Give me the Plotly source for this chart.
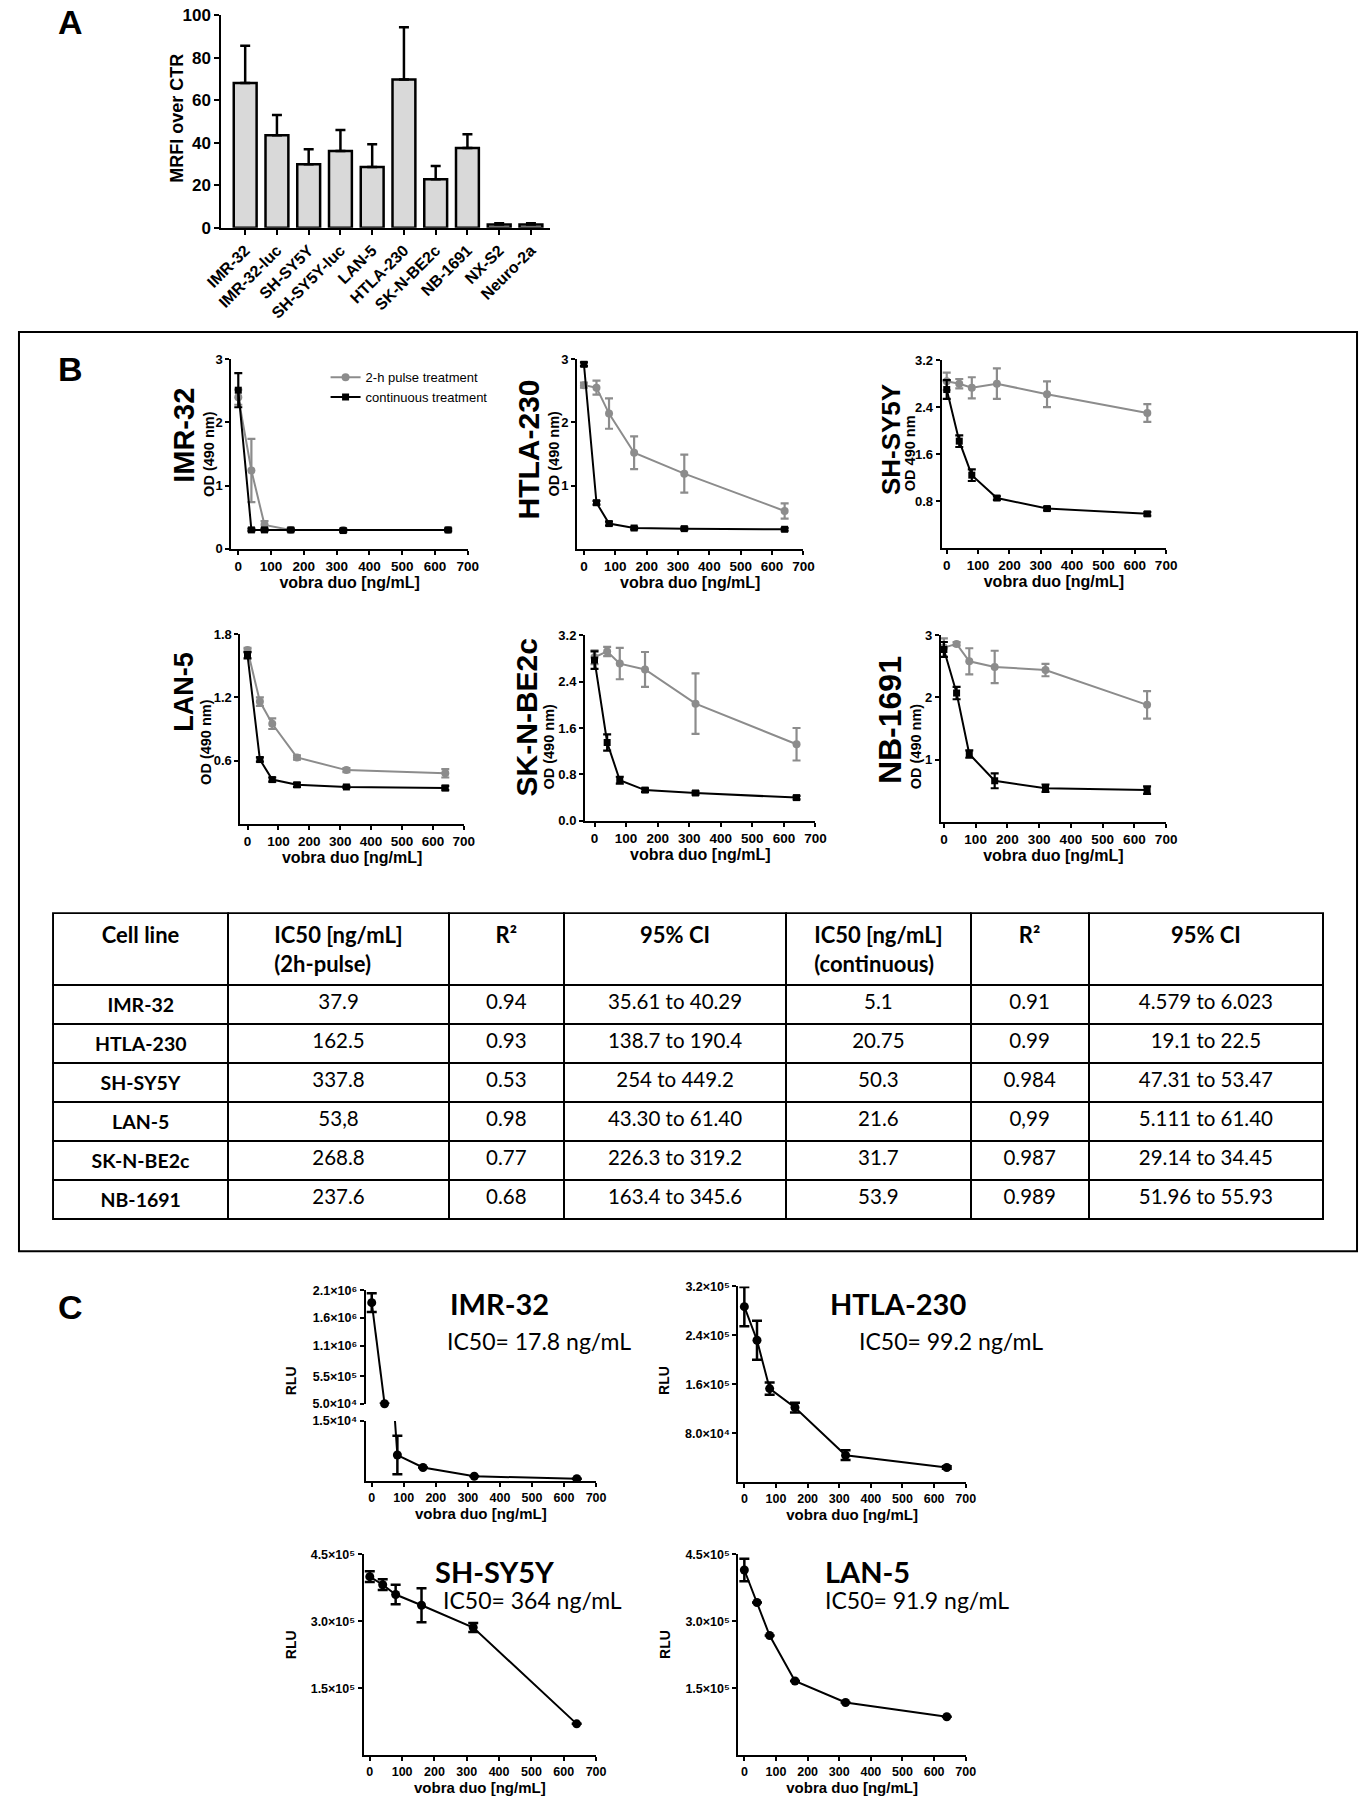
import plotly.graph_objects as go

W, H = 1369, 1800

# ---------------- Panel A data ----------------
cell_lines_A = ["IMR-32", "IMR-32-luc", "SH-SY5Y", "SH-SY5Y-luc", "LAN-5",
                "HTLA-230", "SK-N-BE2c", "NB-1691", "NX-S2", "Neuro-2a"]
mrfi_mean = [68.0, 43.5, 29.8, 36.1, 28.6, 69.7, 22.8, 37.5, 1.5, 1.5]
mrfi_sd = [17.6, 9.5, 7.1, 9.9, 10.6, 24.6, 6.2, 6.5, 0.6, 0.6]

# ---------------- Panel B data ----------------
doses = [0, 40, 80, 160, 320, 640]

pulse_IMR32 = [2.40, 1.24, 0.38, 0.30, 0.30, 0.30]
pulse_IMR32_err = [0.12, 0.50, 0.06, 0.02, 0.02, 0.02]
cont_IMR32 = [2.51, 0.30, 0.30, 0.30, 0.29, 0.30]
cont_IMR32_err = [0.27, 0.02, 0.02, 0.02, 0.02, 0.02]

pulse_HTLA230 = [2.59, 2.55, 2.14, 1.52, 1.19, 0.60]
pulse_HTLA230_err = [0.04, 0.11, 0.24, 0.26, 0.30, 0.12]
cont_HTLA230 = [2.92, 0.73, 0.40, 0.33, 0.32, 0.31]
cont_HTLA230_err = [0.03, 0.03, 0.03, 0.02, 0.02, 0.02]

pulse_SHSY5Y = [2.84, 2.80, 2.73, 2.80, 2.62, 2.30]
pulse_SHSY5Y_err = [0.15, 0.08, 0.18, 0.26, 0.22, 0.15]
cont_SHSY5Y = [2.70, 1.82, 1.24, 0.85, 0.67, 0.58]
cont_SHSY5Y_err = [0.16, 0.10, 0.10, 0.03, 0.03, 0.03]

pulse_LAN5 = [1.65, 1.16, 0.95, 0.63, 0.51, 0.48]
pulse_LAN5_err = [0.02, 0.04, 0.05, 0.02, 0.02, 0.04]
cont_LAN5 = [1.60, 0.61, 0.42, 0.37, 0.35, 0.34]
cont_LAN5_err = [0.03, 0.02, 0.02, 0.02, 0.01, 0.02]

pulse_SKNBE2c = [2.82, 2.92, 2.71, 2.61, 2.02, 1.32]
pulse_SKNBE2c_err = [0.12, 0.08, 0.27, 0.30, 0.52, 0.28]
cont_SKNBE2c = [2.77, 1.35, 0.70, 0.53, 0.48, 0.40]
cont_SKNBE2c_err = [0.15, 0.14, 0.06, 0.03, 0.03, 0.03]

pulse_NB1691 = [2.80, 2.86, 2.58, 2.49, 2.44, 1.88]
pulse_NB1691_err = [0.15, 0.03, 0.21, 0.26, 0.10, 0.22]
cont_NB1691 = [2.77, 2.07, 1.09, 0.66, 0.54, 0.51]
cont_NB1691_err = [0.12, 0.10, 0.06, 0.12, 0.06, 0.06]

# ---------------- Table data ----------------
tbl_header = ["Cell line", "IC50 [ng/mL]<br>(2h-pulse)", "R²", "95% CI",
              "IC50 [ng/mL]<br>(continuous)", "R²", "95% CI"]
tbl_cell_line = ["IMR-32", "HTLA-230", "SH-SY5Y", "LAN-5", "SK-N-BE2c", "NB-1691"]
tbl_ic50_pulse = ["37.9", "162.5", "337.8", "53,8", "268.8", "237.6"]
tbl_r2_pulse = ["0.94", "0.93", "0.53", "0.98", "0.77", "0.68"]
tbl_ci_pulse = ["35.61 to 40.29", "138.7 to 190.4", "254 to 449.2",
                "43.30 to 61.40", "226.3 to 319.2", "163.4 to 345.6"]
tbl_ic50_cont = ["5.1", "20.75", "50.3", "21.6", "31.7", "53.9"]
tbl_r2_cont = ["0.91", "0.99", "0.984", "0,99", "0.987", "0.989"]
tbl_ci_cont = ["4.579 to 6.023", "19.1 to 22.5", "47.31 to 53.47",
               "5.111 to 61.40", "29.14 to 34.45", "51.96 to 55.93"]

# ---------------- Panel C data ----------------
rlu_IMR32 = [1.88e6, 5.2e4, 6.5e3, 3.4e3, 1.2e3, 0.6e3]
rlu_IMR32_err = [1.7e5, 0, 4.8e3, 0, 0, 0]
rlu_HTLA230 = [2.87e5, 2.32e5, 1.53e5, 1.22e5, 4.4e4, 2.4e4]
rlu_HTLA230_err = [3.2e4, 3.2e4, 1.0e4, 8e3, 8e3, 2e3]
rlu_SHSY5Y = [4.0e5, 3.82e5, 3.6e5, 3.36e5, 2.86e5, 0.70e5]
rlu_SHSY5Y_err = [1.2e4, 1.2e4, 2.2e4, 3.8e4, 1.0e4, 0]
rlu_LAN5 = [4.15e5, 3.42e5, 2.68e5, 1.66e5, 1.18e5, 0.86e5]
rlu_LAN5_err = [2.5e4, 0, 0, 0, 0, 0]
ic50_C = {"IMR-32": "17.8", "HTLA-230": "99.2", "SH-SY5Y": "364", "LAN-5": "91.9"}

# ---------------- helpers ----------------
SANS = "Liberation Sans, Arial"
CAL = "Lato, Carlito, Calibri, Open Sans"
GRAY = "#8c8c8c"

# layout positions below are given in picture pixels; convert to figure pixels
AX, BX = 17.0, 0.977
AY, BY = 10.0, 0.986


def px(X):
    return min(max((X - AX) / BX, 1.0), W - 1.0)


def py(Y):
    return min(max((Y - AY) / BY, 1.0), H - 1.0)


def xd(l, r):
    return [px(l) / W, px(r) / W]


def yd(t, b):
    return [1 - py(b) / H, 1 - py(t) / H]


def base_axis(**kw):
    d = dict(showline=True, linecolor="black", linewidth=2, ticks="outside",
             ticklen=4, tickwidth=2, tickcolor="black", showgrid=False,
             zeroline=False,
             tickfont=dict(family=SANS, size=13.5, color="black", weight="bold"))
    d.update(kw)
    return d


def ann(text, x, y, size, family=SANS, bold=True, angle=0):
    return dict(text=text, x=px(x) / W, y=1 - py(y) / H, xref="paper", yref="paper",
                xanchor="center", yanchor="middle", textangle=angle, showarrow=False,
                font=dict(family=family, size=size, color="black",
                          weight="bold" if bold else "normal"))


fig = go.Figure()
layout = {}
annotations = []
shapes = []

# ---------------- Panel A ----------------
fig.add_trace(go.Bar(
    x=cell_lines_A, y=mrfi_mean, xaxis="x", yaxis="y", width=0.72,
    marker=dict(color="#d9d9d9", line=dict(color="black", width=2.5)),
    error_y=dict(type="data", array=mrfi_sd, arrayminus=[0] * len(mrfi_sd),
                 symmetric=False, color="black", thickness=2.5, width=5),
    showlegend=False))
layout["xaxis"] = base_axis(domain=xd(220, 548), anchor="y", range=[-0.75, 9.6],
                            tickangle=-45, ticklen=5,
                            tickfont=dict(family=SANS, size=16, color="black", weight="bold"))
layout["yaxis"] = base_axis(domain=yd(16, 228), anchor="x", range=[0, 100], ticklen=5,
                            tickvals=[0, 20, 40, 60, 80, 100],
                            tickfont=dict(family=SANS, size=17, color="black", weight="bold"))
annotations.append(ann("MRFI over CTR", 176, 119, 18, angle=-90))

# ---------------- Panel B ----------------
# (name, pulse, pulse err, cont, cont err, x px, y px, x range, y range, y ticks, y tick text,
#  name position, name size, OD position, OD text)
b_specs = [
    ("IMR-32", pulse_IMR32, pulse_IMR32_err, cont_IMR32, cont_IMR32_err,
     (230, 466), (359, 548), [-21, 700], [0, 3], [0, 1, 2, 3], None,
     (183, 435), 29, (207, 453), "OD (490 nm)"),
    ("HTLA-230", pulse_HTLA230, pulse_HTLA230_err, cont_HTLA230, cont_HTLA230_err,
     (575, 801), (359, 548), [-22, 700], [0, 3], [1, 2, 3], None,
     (527, 449), 30, (552, 453), "OD (490 nm)"),
    ("SH-SY5Y", pulse_SHSY5Y, pulse_SHSY5Y_err, cont_SHSY5Y, cont_SHSY5Y_err,
     (939, 1163), (360, 547), [-16, 700], [0, 3.2], [0.8, 1.6, 2.4, 3.2], None,
     (889, 439), 26, (907, 453), "OD 490 nm"),
    ("LAN-5", pulse_LAN5, pulse_LAN5_err, cont_LAN5, cont_LAN5_err,
     (239, 462), (633, 822), [-23, 700], [0, 1.8], [0.6, 1.2, 1.8], None,
     (183, 690), 27, (204, 740), "OD (490 nm)"),
    ("SK-N-BE2c", pulse_SKNBE2c, pulse_SKNBE2c_err, cont_SKNBE2c, cont_SKNBE2c_err,
     (583, 813), (634, 819), [-30, 700], [0, 3.2], [0, 0.8, 1.6, 2.4, 3.2],
     ["0.0", "0.8", "1.6", "2.4", "3.2"],
     (525, 716), 30, (547, 745), "OD (490 nm)"),
    ("NB-1691", pulse_NB1691, pulse_NB1691_err, cont_NB1691, cont_NB1691_err,
     (938, 1163), (634, 820), [-10, 700], [0, 3], [1, 2, 3], None,
     (888, 719), 32, (913, 745), "OD (490 nm)"),
]

for i, (name, pv, pe, cv, ce, xdom, ydom, xr, yr, ytv, ytt, namepos, namesize, odpos, odtxt) in enumerate(b_specs):
    n = i + 2
    xa, ya = f"x{n}", f"y{n}"
    first = (i == 0)
    fig.add_trace(go.Scatter(
        x=doses, y=pv, xaxis=xa, yaxis=ya, mode="lines+markers",
        name="2-h pulse treatment", showlegend=first, legendrank=1,
        line=dict(color=GRAY, width=2), marker=dict(symbol="circle", size=8, color=GRAY),
        error_y=dict(type="data", array=pe, color=GRAY, thickness=2.2, width=4),
        cliponaxis=False))
    fig.add_trace(go.Scatter(
        x=doses, y=cv, xaxis=xa, yaxis=ya, mode="lines+markers",
        name="continuous treatment", showlegend=first, legendrank=2,
        line=dict(color="black", width=2), marker=dict(symbol="square", size=7, color="black"),
        error_y=dict(type="data", array=ce, color="black", thickness=2.2, width=4),
        cliponaxis=False))
    layout[f"xaxis{n}"] = base_axis(
        domain=xd(*xdom), anchor=ya, range=xr, tickvals=[0, 100, 200, 300, 400, 500, 600, 700],
        title=dict(text="vobra duo [ng/mL]", standoff=4,
                   font=dict(family=SANS, size=16, color="black", weight="bold")))
    yax = base_axis(domain=yd(*ydom), anchor=xa, range=yr, tickvals=ytv,
                    tickfont=dict(family=SANS, size=13, color="black", weight="bold"))
    if ytt:
        yax["ticktext"] = ytt
    layout[f"yaxis{n}"] = yax
    annotations.append(ann(name, namepos[0], namepos[1], namesize, angle=-90))
    annotations.append(ann(odtxt, odpos[0], odpos[1], 14.5, angle=-90))

# ---------------- Table ----------------
fig.add_trace(go.Table(
    domain=dict(x=xd(52, 1320), y=yd(911, 1232)),
    columnwidth=[175, 220, 115, 222, 184, 118, 234],
    header=dict(values=[f"<b>{h}</b>" for h in tbl_header],
                line=dict(color="black", width=2), fill=dict(color="white"),
                align="center", height=72,
                font=dict(family=CAL, size=22, color="black")),
    cells=dict(values=[[f"<b>{c}</b>" for c in tbl_cell_line], tbl_ic50_pulse, tbl_r2_pulse,
                       tbl_ci_pulse, tbl_ic50_cont, tbl_r2_cont, tbl_ci_cont],
               line=dict(color="black", width=2), fill=dict(color="white"),
               align="center", height=39,
               font=dict(family=CAL, size=[19.5, 20.5, 20.5, 20.5, 20.5, 20.5, 20.5],
                         color="black"))))

# ---------------- Panel C ----------------
xt = [0, 100, 200, 300, 400, 500, 600, 700]
xtitle = dict(text="vobra duo [ng/mL]", standoff=4,
              font=dict(family=SANS, size=15, color="black", weight="bold"))
ctick = dict(family=SANS, size=12.5, color="black", weight="bold")
SUP = {"4": "⁴", "5": "⁵", "6": "⁶"}


def sci(v, e):
    return f"{v}×10{SUP[str(e)]}"


# IMR-32 upper (broken axis)
fig.add_trace(go.Scatter(
    x=doses[:2], y=rlu_IMR32[:2], xaxis="x8", yaxis="y8", mode="lines+markers",
    line=dict(color="black", width=2), marker=dict(size=9, color="black"),
    error_y=dict(type="data", array=rlu_IMR32_err[:2], color="black", thickness=2.5, width=5),
    showlegend=False, cliponaxis=False))
layout["xaxis8"] = dict(domain=xd(364, 594), anchor="y8", range=[-19, 700], visible=False)
layout["yaxis8"] = base_axis(domain=yd(1287, 1400), anchor="x8", range=[5e4, 2.1e6],
                             tickvals=[2.1e6, 1.6e6, 1.1e6, 5.5e5, 5e4],
                             ticktext=[sci("2.1", 6), sci("1.6", 6), sci("1.1", 6),
                                       sci("5.5", 5), sci("5.0", 4)],
                             tickfont=ctick)
# IMR-32 lower
fig.add_trace(go.Scatter(
    x=doses[1:], y=rlu_IMR32[1:], xaxis="x9", yaxis="y9", mode="lines+markers",
    line=dict(color="black", width=2), marker=dict(size=9, color="black"),
    error_y=dict(type="data", array=rlu_IMR32_err[1:], color="black", thickness=2.5, width=5),
    showlegend=False, cliponaxis=True))
layout["xaxis9"] = base_axis(domain=xd(364, 594), anchor="y9", range=[-19, 700], tickvals=xt,
                             title=xtitle, tickfont=ctick)
layout["yaxis9"] = base_axis(domain=yd(1417, 1477), anchor="x9", range=[0, 1.5e4],
                             tickvals=[1.5e4], ticktext=[sci("1.5", 4)], tickfont=ctick)

c_specs = [
    ("HTLA-230", rlu_HTLA230, rlu_HTLA230_err, (736, 963), (1283, 1478), [0, 3.2e5],
     [8e4, 1.6e5, 2.4e5, 3.2e5], [sci("8.0", 4), sci("1.6", 5), sci("2.4", 5), sci("3.2", 5)],
     (895, 1300), (948, 1337), 662, 1377, 10),
    ("SH-SY5Y", rlu_SHSY5Y, rlu_SHSY5Y_err, (362, 594), (1550, 1750), [0, 4.5e5],
     [1.5e5, 3e5, 4.5e5], [sci("1.5", 5), sci("3.0", 5), sci("4.5", 5)],
     (493, 1567), (531, 1595), 289, 1640, 11),
    ("LAN-5", rlu_LAN5, rlu_LAN5_err, (736, 963), (1550, 1750), [0, 4.5e5],
     [1.5e5, 3e5, 4.5e5], [sci("1.5", 5), sci("3.0", 5), sci("4.5", 5)],
     (865, 1567), (914, 1595), 662, 1640, 12),
]
for (name, vals, errs, xdom, ydom, yr, ytv, ytt, npos, ipos, rlx, rly, n) in c_specs:
    xa, ya = f"x{n}", f"y{n}"
    fig.add_trace(go.Scatter(
        x=doses, y=vals, xaxis=xa, yaxis=ya, mode="lines+markers",
        line=dict(color="black", width=2), marker=dict(size=9, color="black"),
        error_y=dict(type="data", array=errs, color="black", thickness=2.5, width=5),
        showlegend=False, cliponaxis=False))
    layout[f"xaxis{n}"] = base_axis(domain=xd(*xdom), anchor=ya, range=[-19, 700], tickvals=xt,
                                    title=xtitle, tickfont=ctick)
    layout[f"yaxis{n}"] = base_axis(domain=yd(*ydom), anchor=xa, range=yr, tickvals=ytv,
                                    ticktext=ytt, tickfont=ctick)
    annotations.append(ann(name, npos[0], npos[1], 29, family=CAL))
    annotations.append(ann(f"IC50= {ic50_C[name]} ng/mL", ipos[0], ipos[1], 23,
                           family=CAL, bold=False))
    annotations.append(ann("RLU", rlx, rly, 14, angle=-90))

# IMR-32 texts
annotations.append(ann("IMR-32", 498, 1300, 29, family=CAL))
annotations.append(ann(f"IC50= {ic50_C['IMR-32']} ng/mL", 537, 1337, 23, family=CAL, bold=False))
annotations.append(ann("RLU", 289, 1377, 14, angle=-90))

# panel letters
for letter, (lx, ly) in {"A": (69, 23), "B": (69, 369), "C": (69, 1303)}.items():
    annotations.append(ann(letter, lx, ly, 34))

# Panel B box
shapes.append(dict(type="rect", xref="paper", yref="paper", x0=px(14) / W, x1=px(1357) / W,
                   y0=1 - py(1248) / H, y1=1 - py(332) / H, line=dict(color="black", width=2)))

fig.update_layout(
    width=W, height=H, margin=dict(l=0, r=0, t=0, b=0),
    paper_bgcolor="white", plot_bgcolor="white",
    annotations=annotations, shapes=shapes,
    legend=dict(x=px(324) / W, y=1 - py(362) / H, xanchor="left", yanchor="top",
                bgcolor="rgba(0,0,0,0)", tracegroupgap=0, itemwidth=30,
                font=dict(family=SANS, size=13, color="black")),
    **layout)

fig.write_html("out.html", config={"displayModeBar": False},
               post_script="document.body.style.margin='0';")
